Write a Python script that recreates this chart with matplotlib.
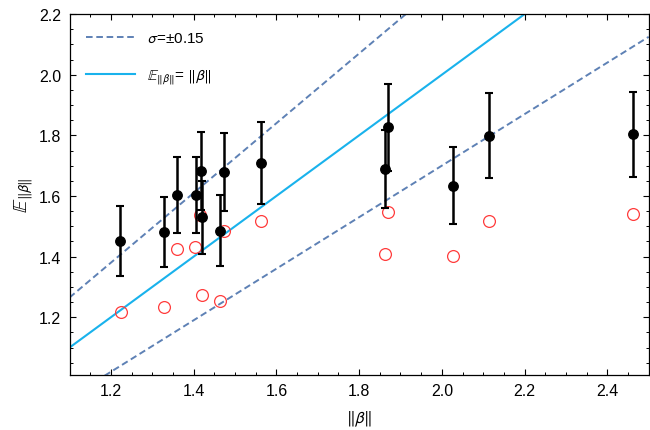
import numpy as np
import matplotlib
matplotlib.use('Agg')
import matplotlib.pyplot as plt
from matplotlib.ticker import MultipleLocator

# ── Data ───────────────────────────────────────────────────────────────────
# measured points (black, with error bars)
beta_norm = [1.223, 1.328, 1.360, 1.405, 1.417, 1.420, 1.463, 1.474, 1.564,
             1.862, 1.870, 2.027, 2.113, 2.462]
e_norm    = [1.451, 1.480, 1.602, 1.604, 1.683, 1.529, 1.486, 1.679, 1.708,
             1.689, 1.826, 1.634, 1.799, 1.804]
e_err     = [0.115, 0.115, 0.125, 0.125, 0.128, 0.120, 0.117, 0.130, 0.135,
             0.128, 0.142, 0.128, 0.140, 0.140]

# open red circles
red_x = [1.224, 1.328, 1.359, 1.404, 1.416, 1.419, 1.463, 1.474, 1.564,
         1.870, 1.862, 2.027, 2.113, 2.462]
red_y = [1.216, 1.234, 1.425, 1.433, 1.536, 1.273, 1.254, 1.484, 1.517,
         1.548, 1.410, 1.402, 1.516, 1.540]

SIGMA = 0.15
XLIM = (1.1, 2.5)
YLIM = (1.01, 2.2)

# ── Style ──────────────────────────────────────────────────────────────────
plt.rcParams['font.family'] = ['Liberation Sans', 'DejaVu Sans']
plt.rcParams['mathtext.fontset'] = 'stixsans'

C_LINE = '#19b2ec'
C_DASH = '#5e81b5'
C_RED  = '#ff3b3b'

fig = plt.figure(figsize=(6.5, 4.31), dpi=100)
ax = fig.add_axes([0.107, 0.128, 0.891, 0.837])

xs = np.array(XLIM)
ax.plot(xs, xs * (1 + SIGMA), color=C_DASH, lw=1.4, ls=(0, (3.4, 1.9)),
        label=r'$\sigma$=±0.15', zorder=2)
ax.plot(xs, xs * (1 - SIGMA), color=C_DASH, lw=1.4, ls=(0, (3.4, 1.9)), zorder=2)
ax.plot(xs, xs, color=C_LINE, lw=1.5,
        label=r'$\mathbb{E}_{\Vert\beta\Vert}$= $\Vert\beta\Vert$', zorder=2)

ax.plot(red_x, red_y, 'o', ms=8.5, mfc='none', mec=C_RED, mew=0.9, zorder=3)
ax.errorbar(beta_norm, e_norm, yerr=e_err, fmt='o', color='black', ms=6.8,
            elinewidth=1.8, capsize=2.6, capthick=1.5, zorder=4)

ax.set_xlim(*XLIM)
ax.set_ylim(*YLIM)
ax.xaxis.set_major_locator(MultipleLocator(0.2))
ax.xaxis.set_minor_locator(MultipleLocator(0.05))
ax.yaxis.set_major_locator(MultipleLocator(0.2))
ax.yaxis.set_minor_locator(MultipleLocator(0.05))
ax.tick_params(which='both', direction='in', top=True, right=True,
               labelsize=11.5, colors='black', pad=6)
ax.tick_params(which='major', length=4, width=0.8)
ax.tick_params(which='minor', length=2.2, width=0.7)
for s in ax.spines.values():
    s.set_linewidth(0.9)

ax.set_xlabel(r'$\Vert\beta\Vert$', fontsize=12, labelpad=8)
ax.set_ylabel(r'$\mathbb{E}_{\Vert\beta\Vert}$', fontsize=14.5, labelpad=2)

ax.legend(loc='upper left', frameon=False, fontsize=11, handlelength=3.2,
          labelspacing=1.4, borderaxespad=0.7, handletextpad=0.8)

fig.savefig('out.png', dpi=100)
